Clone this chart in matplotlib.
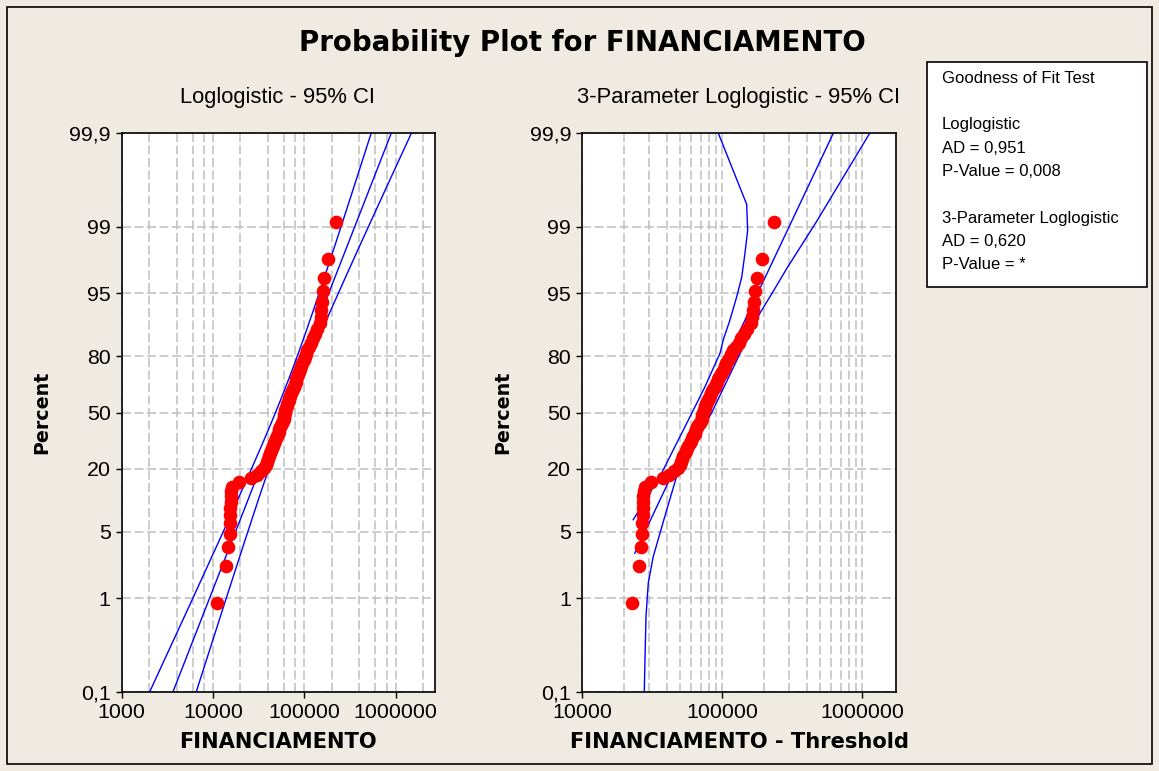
import matplotlib
matplotlib.use("Agg")
import matplotlib.pyplot as plt
import numpy as np
from matplotlib.patches import Rectangle
from matplotlib.ticker import FixedLocator, NullLocator

# FINANCIAMENTO sample, sorted (n = 77)
financiamento = [
    11150, 14000, 14600, 15200, 15300, 15400, 15500, 15600, 15700, 15900,
    16300, 19300, 26000, 30300, 33600, 36300, 38200, 39200, 40200, 41200,
    42300, 43300, 44500, 45600, 46800, 48000, 49200, 50500, 51800, 52500,
    53100, 54500, 55800, 57300, 58700, 59500, 60300, 60400, 61100, 61800,
    63400, 64200, 65000, 66700, 67600, 68400, 70200, 72000, 72900, 74800,
    76700, 78700, 80700, 81700, 83800, 86000, 88200, 90400, 92700, 95100,
    98800, 101200, 103800, 107800, 113400, 119300, 125500, 132000, 138900, 150000,
    151700, 153700, 157600, 158800, 166000, 180600, 221000,
]

# Loglogistic fit (log10 location / scale) and CI variance terms (a, cov, b)
loglog_loc = 4.757
loglog_scale = 0.1732
loglog_var = (0.0052, -0.0006, 0.00108)

# 3-parameter loglogistic fit
threshold = -11600
loglog3_loc = 4.850
loglog3_scale = 0.1366
loglog3_start_pct = 3.0

# 95% CI bounds of the 3-parameter fit (percent, x - threshold)
ci3_lower_pct = [6.6, 17.1, 28.5, 47.5, 65.5, 81.3, 85.8, 90.8, 94.6, 96.6, 98.1, 98.9, 99.42, 99.9]
ci3_lower_val = [23100, 35900, 44700, 58900, 75300, 96400, 101600, 113500, 126800, 137700,
                 145200, 151700, 149300, 93500]
ci3_upper_pct = [0.1, 0.64, 1.46, 2.76, 4.83, 8.3, 17.1, 50, 87.8, 92.1, 95.0, 97.3, 99.1, 99.9]
ci3_upper_val = [27700, 28500, 29600, 32100, 35900, 40100, 47200, 84100, 157800, 185800,
                 226500, 291700, 467700, 1132000]

y_ticks = [0.1, 1, 5, 20, 50, 80, 95, 99, 99.9]
y_tick_labels = ["0,1", "1", "5", "20", "50", "80", "95", "99", "99,9"]

gof_lines = [
    "Goodness of Fit Test", "",
    "Loglogistic", "AD = 0,951", "P-Value = 0,008", "",
    "3-Parameter Loglogistic", "AD = 0,620", "P-Value = *",
]

W, H = 1159, 771
BG = "#EFEBE2"
GRID = "#BEBEBE"
REG = "Liberation Sans"
BOLD = "DejaVu Sans"
TICK_FS = 15.4

plt.rcParams["lines.scale_dashes"] = False

n = len(financiamento)
data = np.array(financiamento, dtype=float)
ranks = np.arange(1, n + 1)
plot_pos = (ranks - 0.3) / (n + 0.4)


def fx(px):
    return px / W


def fy(py):
    return 1 - py / H


def logit(p):
    return np.log(p / (1 - p))


def style_axes(ax, xlim, xmajor, xminor, xlabel):
    ax.set_xscale("log")
    ax.set_yscale("logit")
    ax.set_xlim(*xlim)
    ax.set_ylim(0.001, 0.999)
    ax.xaxis.set_major_locator(FixedLocator(xmajor))
    ax.xaxis.set_minor_locator(FixedLocator(xminor))
    ax.set_xticklabels([str(int(v)) for v in xmajor], fontfamily=REG, fontsize=TICK_FS)
    ax.yaxis.set_major_locator(FixedLocator([t / 100 for t in y_ticks]))
    ax.yaxis.set_minor_locator(NullLocator())
    ax.set_yticklabels(y_tick_labels, fontfamily=REG, fontsize=TICK_FS)
    ax.tick_params(which="major", length=4.5, width=1.0, pad=3.5, color="black")
    ax.tick_params(which="minor", length=0)
    ax.set_axisbelow(True)
    ax.grid(True, which="both", axis="x", color=GRID, lw=1.1, dashes=(6.5, 2.5))
    ax.grid(True, which="major", axis="y", color=GRID, lw=1.1, dashes=(6.5, 2.5))
    for sp in ax.spines.values():
        sp.set_linewidth(1.2)
    ax.set_facecolor("white")
    ax.set_xlabel(xlabel, fontfamily=BOLD, fontweight="bold", fontsize=15.1)
    ax.xaxis.set_label_coords(0.5, -0.089)
    ax.xaxis.label.set_va("center")
    ax.set_ylabel("Percent", fontfamily=BOLD, fontweight="bold", fontsize=13.7)
    ax.yaxis.set_label_coords(-0.255, 0.5)
    ax.yaxis.label.set_va("center")


fig = plt.figure(figsize=(W / 100, H / 100), dpi=100, facecolor=BG)

ax1 = fig.add_axes([fx(121.7), fy(692), fx(435 - 121.7), (692 - 133) / H])
ax2 = fig.add_axes([fx(582.3), fy(692), fx(896 - 582.3), (692 - 133) / H])

# Left: 2-parameter loglogistic
L = np.linspace(-7.2, 7.2, 300)
p_line = 1 / (1 + np.exp(-L))
centre = loglog_loc + loglog_scale * L
a, c, b = loglog_var
half = np.sqrt(a + 2 * c * L + b * L ** 2)
for curve in (centre - half, centre, centre + half):
    ax1.plot(10 ** curve, p_line, color="#0000FF", lw=1.0, zorder=2)
ax1.plot(data, plot_pos, "o", color="#FF0000", ms=8.8, mec="#FF0000", zorder=3)
style_axes(ax1, (1000, 2.7e6), [1e3, 1e4, 1e5, 1e6],
           [m * 10 ** e for e in (3, 4, 5, 6) for m in (2, 4, 6, 8)], "FINANCIAMENTO")

# Right: 3-parameter loglogistic, x shifted by threshold
L3 = np.linspace(logit(loglog3_start_pct / 100), 7.2, 300)
p3 = 1 / (1 + np.exp(-L3))
ax2.plot(10 ** (loglog3_loc + loglog3_scale * L3), p3, color="#0000FF", lw=1.0, zorder=2)
ax2.plot(ci3_lower_val, np.array(ci3_lower_pct) / 100, color="#0000FF", lw=1.0, zorder=2)
ax2.plot(ci3_upper_val, np.array(ci3_upper_pct) / 100, color="#0000FF", lw=1.0, zorder=2)
ax2.plot(data - threshold, plot_pos, "o", color="#FF0000", ms=8.8, mec="#FF0000", zorder=3)
style_axes(ax2, (1e4, 1.74e6), [1e4, 1e5, 1e6],
           [m * 10 ** e for e in (4, 5, 6) for m in range(2, 10)], "FINANCIAMENTO - Threshold")

# Titles
fig.text(fx(582), fy(43), "Probability Plot for FINANCIAMENTO", ha="center", va="center",
         fontfamily=BOLD, fontweight="bold", fontsize=19.9)
fig.text(fx(278), fy(98), "Loglogistic - 95% CI", ha="center", va="center",
         fontfamily=REG, fontsize=15.8)
fig.text(fx(739), fy(98), "3-Parameter Loglogistic - 95% CI", ha="center", va="center",
         fontfamily=REG, fontsize=15.8)

# Goodness of fit box
fig.patches.append(Rectangle((fx(927.3), fy(287.3)), fx(1147 - 927.3), (287.3 - 62.3) / H,
                             transform=fig.transFigure, facecolor="white",
                             edgecolor="black", lw=1.2))
for i, line in enumerate(gof_lines):
    if line:
        fig.text(fx(941.7), fy(78.3 + 23.3 * i), line, ha="left", va="center",
                 fontfamily=REG, fontsize=12)

# Outer frame
fig.patches.append(Rectangle((fx(7), fy(764)), fx(1152 - 7), (764 - 7) / H,
                             transform=fig.transFigure, fill=False,
                             edgecolor="black", lw=1.2))

fig.savefig("out.png", dpi=100, facecolor=BG)
